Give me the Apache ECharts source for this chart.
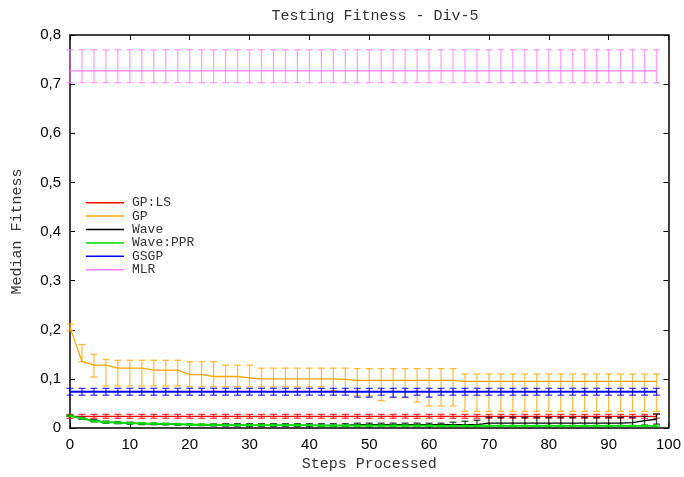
<!DOCTYPE html>
<html>
<head>
<meta charset="utf-8">
<script src="https://cdn.jsdelivr.net/npm/echarts@6/dist/echarts.min.js"></script>
<style>html,body{margin:0;padding:0;background:#fff}#c{width:684px;height:477px}</style>
</head>
<body>
<div id="c"></div>
<script>
const steps = [0,2,4,6,8,10,12,14,16,18,20,22,24,26,28,30,32,34,36,38,40,42,44,46,48,50,52,54,56,58,60,62,64,66,68,70,72,74,76,78,80,82,84,86,88,90,92,94,96,98];
const xTicks = [0,10,20,30,40,50,60,70,80,90,100];
const yTicks = ['0','0,1','0,2','0,3','0,4','0,5','0,6','0,7','0,8'];

const gpls    = [0.024,0.024,0.024,0.024,0.024,0.024,0.024,0.024,0.024,0.024,0.024,0.024,0.024,0.024,0.024,0.024,0.024,0.024,0.024,0.024,0.024,0.024,0.024,0.024,0.024,0.024,0.024,0.024,0.024,0.024,0.024,0.024,0.024,0.024,0.024,0.024,0.024,0.024,0.024,0.024,0.024,0.024,0.024,0.024,0.024,0.024,0.024,0.024,0.024,0.024];
const gplsLo  = [0.020,0.020,0.020,0.020,0.020,0.020,0.020,0.020,0.020,0.020,0.020,0.020,0.020,0.020,0.020,0.020,0.020,0.020,0.020,0.020,0.020,0.020,0.020,0.020,0.020,0.020,0.020,0.020,0.020,0.020,0.020,0.020,0.020,0.020,0.020,0.020,0.020,0.020,0.020,0.020,0.020,0.020,0.020,0.020,0.020,0.020,0.020,0.020,0.020,0.020];
const gplsHi  = [0.028,0.028,0.028,0.028,0.028,0.028,0.028,0.028,0.028,0.028,0.028,0.028,0.028,0.028,0.028,0.028,0.028,0.028,0.028,0.028,0.028,0.028,0.028,0.028,0.028,0.028,0.028,0.028,0.028,0.028,0.028,0.028,0.028,0.028,0.028,0.028,0.028,0.028,0.028,0.028,0.028,0.028,0.028,0.028,0.028,0.028,0.028,0.028,0.028,0.028];

const gp      = [0.205,0.136,0.128,0.128,0.122,0.122,0.122,0.118,0.118,0.118,0.109,0.109,0.105,0.105,0.105,0.102,0.100,0.100,0.100,0.100,0.100,0.100,0.100,0.099,0.097,0.097,0.097,0.097,0.097,0.097,0.097,0.097,0.097,0.095,0.095,0.095,0.095,0.095,0.095,0.095,0.095,0.095,0.095,0.095,0.095,0.095,0.095,0.095,0.095,0.095];
const gpLo    = [0.198,0.135,0.104,0.086,0.086,0.086,0.086,0.086,0.086,0.086,0.084,0.084,0.084,0.084,0.084,0.084,0.084,0.084,0.084,0.084,0.084,0.084,0.076,0.073,0.066,0.066,0.056,0.062,0.062,0.053,0.045,0.045,0.045,0.034,0.034,0.034,0.034,0.034,0.034,0.034,0.034,0.034,0.034,0.034,0.034,0.034,0.034,0.034,0.034,0.034];
const gpHi    = [0.212,0.170,0.150,0.140,0.138,0.138,0.138,0.138,0.138,0.138,0.135,0.135,0.135,0.128,0.128,0.128,0.122,0.122,0.122,0.122,0.122,0.122,0.122,0.122,0.121,0.121,0.121,0.121,0.121,0.121,0.121,0.121,0.121,0.110,0.110,0.110,0.110,0.110,0.110,0.110,0.110,0.110,0.110,0.110,0.110,0.110,0.110,0.110,0.110,0.110];

const wave    = [0.025,0.020,0.015,0.012,0.011,0.010,0.009,0.0085,0.008,0.0075,0.007,0.0065,0.006,0.006,0.006,0.0055,0.0055,0.0055,0.0055,0.0055,0.0055,0.0055,0.0055,0.0055,0.007,0.007,0.007,0.007,0.007,0.007,0.007,0.007,0.007,0.007,0.007,0.010,0.010,0.010,0.010,0.010,0.010,0.010,0.010,0.010,0.010,0.010,0.010,0.011,0.015,0.018];
const waveLo  = [0.024,0.018,0.013,0.010,0.009,0.008,0.007,0.007,0.0065,0.006,0.0055,0.005,0.0045,0.004,0.004,0.0035,0.0035,0.0035,0.0035,0.0035,0.0035,0.0035,0.0035,0.0035,0.0045,0.0045,0.0045,0.0045,0.0045,0.0045,0.0045,0.0045,0.0045,0.0045,0.0045,0.005,0.005,0.005,0.005,0.005,0.005,0.005,0.005,0.005,0.005,0.005,0.005,0.005,0.006,0.008];
const waveHi  = [0.026,0.022,0.017,0.014,0.013,0.012,0.011,0.010,0.0095,0.009,0.0085,0.008,0.0085,0.009,0.009,0.009,0.009,0.009,0.009,0.009,0.009,0.009,0.009,0.009,0.010,0.010,0.010,0.010,0.010,0.010,0.010,0.010,0.012,0.014,0.016,0.022,0.022,0.022,0.022,0.022,0.022,0.022,0.022,0.022,0.022,0.022,0.022,0.022,0.024,0.029];

const ppr     = [0.025,0.020,0.014,0.012,0.011,0.010,0.0095,0.009,0.0085,0.008,0.007,0.0068,0.0065,0.006,0.006,0.006,0.006,0.006,0.006,0.006,0.006,0.005,0.005,0.005,0.005,0.005,0.005,0.005,0.005,0.005,0.005,0.0045,0.0045,0.0045,0.0045,0.0045,0.0045,0.0045,0.0045,0.0045,0.0045,0.0045,0.0045,0.0045,0.0045,0.0045,0.0045,0.0045,0.0045,0.0045];
const pprLo   = [0.0235,0.0185,0.0125,0.0105,0.0095,0.0085,0.008,0.0075,0.007,0.0065,0.0055,0.0053,0.005,0.0045,0.0045,0.0045,0.0045,0.0045,0.0045,0.0045,0.0045,0.0035,0.0035,0.0035,0.0035,0.0035,0.0035,0.0035,0.0035,0.0035,0.0035,0.003,0.003,0.003,0.003,0.003,0.003,0.003,0.003,0.003,0.003,0.003,0.003,0.003,0.003,0.003,0.003,0.003,0.003,0.003];
const pprHi   = [0.0265,0.0215,0.0155,0.0135,0.0125,0.0115,0.011,0.0105,0.010,0.0095,0.0085,0.0083,0.008,0.0075,0.0075,0.0075,0.0075,0.0075,0.0075,0.0075,0.0075,0.0065,0.0065,0.0065,0.0065,0.0065,0.0065,0.0065,0.0065,0.0065,0.0065,0.006,0.006,0.006,0.006,0.006,0.006,0.006,0.006,0.006,0.006,0.006,0.006,0.006,0.006,0.006,0.006,0.006,0.006,0.006];

const gsgp    = [0.074,0.074,0.074,0.074,0.074,0.074,0.074,0.074,0.074,0.074,0.074,0.074,0.074,0.074,0.074,0.074,0.074,0.074,0.074,0.074,0.074,0.074,0.074,0.074,0.074,0.074,0.074,0.074,0.074,0.074,0.074,0.074,0.074,0.074,0.074,0.074,0.074,0.074,0.074,0.074,0.074,0.074,0.074,0.074,0.074,0.074,0.074,0.074,0.074,0.074];
const gsgpLo  = [0.067,0.067,0.067,0.067,0.067,0.067,0.067,0.067,0.067,0.067,0.067,0.067,0.067,0.067,0.067,0.067,0.067,0.067,0.067,0.067,0.067,0.067,0.067,0.067,0.063,0.063,0.067,0.063,0.063,0.067,0.063,0.067,0.067,0.067,0.067,0.067,0.067,0.067,0.067,0.067,0.067,0.067,0.067,0.067,0.067,0.067,0.067,0.067,0.067,0.067];
const gsgpHi  = [0.081,0.081,0.081,0.081,0.081,0.081,0.081,0.081,0.081,0.081,0.081,0.081,0.081,0.081,0.081,0.081,0.081,0.081,0.081,0.081,0.081,0.081,0.081,0.081,0.081,0.081,0.081,0.081,0.081,0.081,0.081,0.081,0.081,0.081,0.081,0.081,0.081,0.081,0.081,0.081,0.081,0.081,0.081,0.081,0.081,0.081,0.081,0.081,0.081,0.081];

const mlr     = [0.727,0.727,0.727,0.727,0.727,0.727,0.727,0.727,0.727,0.727,0.727,0.727,0.727,0.727,0.727,0.727,0.727,0.727,0.727,0.727,0.727,0.727,0.727,0.727,0.727,0.727,0.727,0.727,0.727,0.727,0.727,0.727,0.727,0.727,0.727,0.727,0.727,0.727,0.727,0.727,0.727,0.727,0.727,0.727,0.727,0.727,0.727,0.727,0.727,0.727];
const mlrLo   = [0.703,0.703,0.703,0.703,0.703,0.703,0.703,0.703,0.703,0.703,0.703,0.703,0.703,0.703,0.703,0.703,0.703,0.703,0.703,0.703,0.703,0.703,0.703,0.703,0.703,0.703,0.703,0.703,0.703,0.703,0.703,0.703,0.703,0.703,0.703,0.703,0.703,0.703,0.703,0.703,0.703,0.703,0.703,0.703,0.703,0.703,0.703,0.703,0.703,0.703];
const mlrHi   = [0.770,0.770,0.770,0.770,0.770,0.770,0.770,0.770,0.770,0.770,0.770,0.770,0.770,0.770,0.770,0.770,0.770,0.770,0.770,0.770,0.770,0.770,0.770,0.770,0.770,0.770,0.770,0.770,0.770,0.770,0.770,0.770,0.770,0.770,0.770,0.770,0.770,0.770,0.770,0.770,0.770,0.770,0.770,0.770,0.770,0.770,0.770,0.770,0.770,0.770];

const seriesDefs = [
  {name:'GP:LS',    color:'#ff0000', v:gpls, lo:gplsLo, hi:gplsHi, w:1.3},
  {name:'GP',       color:'#ffa500', v:gp,   lo:gpLo,   hi:gpHi,   w:1.3},
  {name:'Wave',     color:'#000000', v:wave, lo:waveLo, hi:waveHi, w:1.3},
  {name:'Wave:PPR', color:'#00dd00', v:ppr,  lo:pprLo,  hi:pprHi,  w:1.8},
  {name:'GSGP',     color:'#0000ff', v:gsgp, lo:gsgpLo, hi:gsgpHi, w:2.2},
  {name:'MLR',      color:'#ff80ff', v:mlr,  lo:mlrLo,  hi:mlrHi,  w:1.3}
];

const mono = 'Liberation Mono, DejaVu Sans Mono, monospace';
const sans = 'Liberation Sans, Arial, sans-serif';

function errRender(color){
  return function(params, api){
    const x = api.value(0), lo = api.value(1), hi = api.value(2);
    const a = api.coord([x, hi]), b = api.coord([x, lo]);
    const hw = 3.5;
    const st = {stroke: color, lineWidth: 1.3, opacity: 0.75};
    return {type:'group', children:[
      {type:'line', shape:{x1:a[0],y1:a[1],x2:b[0],y2:b[1]}, style:st},
      {type:'line', shape:{x1:a[0]-hw,y1:a[1],x2:a[0]+hw,y2:a[1]}, style:st},
      {type:'line', shape:{x1:b[0]-hw,y1:b[1],x2:b[0]+hw,y2:b[1]}, style:st}
    ]};
  };
}

const series = [];
seriesDefs.forEach((d, i) => {
  series.push({
    name: d.name, type:'line', data: steps.map((s, k) => [s, d.v[k]]),
    symbol:'none', lineStyle:{color:d.color, width:d.w}, itemStyle:{color:d.color},
    z: 10 + i*2, animation:false
  });
  series.push({
    name: d.name + '_err', type:'custom', renderItem: errRender(d.color),
    data: steps.map((s, k) => [s, d.lo[k], d.hi[k]]),
    encode:{x:0, y:[1,2]}, z: 9 + i*2, animation:false
  });
});

const chart = echarts.init(document.getElementById('c'));
const axisLine = {show:true, onZero:false, lineStyle:{color:'#000', width:1.5}};
chart.setOption({
  animation:false,
  backgroundColor:'#fff',
  title:{text:'Testing Fitness - Div-5', left:370, top:4, textAlign:'center',
    textStyle:{fontFamily:mono, fontSize:15, fontWeight:'normal', color:'#333'}},
  legend:{
    data: seriesDefs.map(d => d.name), orient:'vertical', left:81, top:191,
    icon:'rect', itemWidth:38, itemHeight:1.5, itemGap:0,
    textStyle:{fontFamily:mono, fontSize:13, color:'#333', lineHeight:13.4, padding:[0,0,0,3]}
  },
  grid:{left:70, right:14, top:35, bottom:43, containLabel:false},
  xAxis:[{
    type:'value', min:0, max:100, interval:10, position:'bottom',
    name:'Steps Processed', nameLocation:'middle', nameGap:27,
    nameTextStyle:{fontFamily:mono, fontSize:15, color:'#333'},
    axisLine:axisLine, axisTick:{show:true, inside:true, length:5, lineStyle:{color:'#000'}},
    axisLabel:{fontFamily:sans, fontSize:15, color:'#000', margin:9,
      formatter: v => { const i = xTicks.indexOf(v); return i >= 0 ? String(xTicks[i]) : ''; }},
    splitLine:{show:false}
  },{
    type:'value', min:0, max:100, interval:10, position:'top',
    axisLine:axisLine, axisTick:{show:true, inside:true, length:5, lineStyle:{color:'#000'}},
    axisLabel:{show:false}, splitLine:{show:false}
  }],
  yAxis:[{
    type:'value', min:0, max:0.8, interval:0.1, position:'left',
    name:'Median Fitness', nameLocation:'middle', nameGap:45, nameRotate:90,
    nameTextStyle:{fontFamily:mono, fontSize:15, color:'#333'},
    axisLine:axisLine, axisTick:{show:true, inside:true, length:5, lineStyle:{color:'#000'}},
    axisLabel:{fontFamily:sans, fontSize:15, color:'#000', margin:9,
      formatter: v => yTicks[Math.round(v*10)] || ''},
    splitLine:{show:false}
  },{
    type:'value', min:0, max:0.8, interval:0.1, position:'right',
    axisLine:axisLine, axisTick:{show:true, inside:true, length:5, lineStyle:{color:'#000'}},
    axisLabel:{show:false}, splitLine:{show:false}
  }],
  series: series
});
</script>
</body>
</html>
